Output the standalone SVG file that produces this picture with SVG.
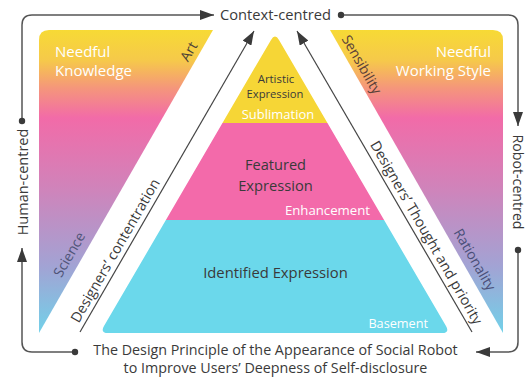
<svg xmlns="http://www.w3.org/2000/svg" width="526" height="378" viewBox="0 0 526 378">
  <defs>
    <linearGradient id="panelGrad" gradientUnits="userSpaceOnUse" x1="0" y1="30" x2="0" y2="333">
      <stop offset="0" stop-color="#f7da35"/>
      <stop offset="0.1" stop-color="#f6c94a"/>
      <stop offset="0.19" stop-color="#f5977a"/>
      <stop offset="0.29" stop-color="#f26ba8"/>
      <stop offset="0.52" stop-color="#d083ba"/>
      <stop offset="0.78" stop-color="#a2a3d4"/>
      <stop offset="1" stop-color="#72d1e9"/>
    </linearGradient>
    <clipPath id="pyramidClip">
      <path d="M271,39.9 Q275,33 279,39.9 L446,326.1 Q450,333 442,333 L108,333 Q100,333 104,326.1 Z"/>
    </clipPath>
    <marker id="arrow" viewBox="0 0 14 10" refX="14" refY="5" markerWidth="14" markerHeight="10" markerUnits="userSpaceOnUse" orient="auto">
      <path d="M0,0 L14,5 L0,10 Z" fill="#3a3a3a"/>
    </marker>
  </defs>
  <style>
    text { font-family: "Open Sans", "DejaVu Sans", sans-serif; }
    .dark { fill: #3a3a3a; }
    .white { fill: #ffffff; }
    .flow { fill: none; stroke: #555555; stroke-width: 1.5; }
    .stripe { fill: none; stroke: #444444; stroke-width: 1.2; }
    .dot { fill: #3a3a3a; }
  </style>

  <rect width="526" height="378" fill="#ffffff"/>

  <!-- left side panel -->
  <g id="panel-left">
    <path d="M49,30 L213,30 L39,333 L39,40 Q39,30 49,30 Z" fill="url(#panelGrad)"/>
    <text class="white" x="55" y="57" font-size="15">Needful</text>
    <text class="white" x="55" y="76" font-size="15">Knowledge</text>
    <text font-size="14" text-anchor="middle" transform="translate(193,54) rotate(-60)" style="fill:#4a3f35">Art</text>
    <text font-size="14" text-anchor="middle" transform="translate(73.5,257) rotate(-60)" style="fill:#4f5478">Science</text>
  </g>

  <!-- right side panel -->
  <g id="panel-right">
    <path d="M330,30 L493,30 Q503,30 503,40 L503,333 Z" fill="url(#panelGrad)"/>
    <text class="white" x="491" y="57" font-size="15" text-anchor="end">Needful</text>
    <text class="white" x="491" y="76" font-size="15" text-anchor="end">Working Style</text>
    <text font-size="14" text-anchor="middle" transform="translate(357.5,67) rotate(60)" style="fill:#5a4038">Sensibility</text>
    <text font-size="14" text-anchor="middle" transform="translate(470.5,262) rotate(60)" style="fill:#4a4f78">Rationality</text>
  </g>

  <!-- central pyramid with three levels -->
  <g id="pyramid" clip-path="url(#pyramidClip)">
    <rect x="90" y="30" width="370" height="93" fill="#f6d636"/>
    <rect x="90" y="123" width="370" height="97" fill="#f36aaa"/>
    <rect x="90" y="220" width="370" height="120" fill="#6bd8eb"/>
  </g>
  <g id="level-top">
    <text class="dark" x="276" y="83" font-size="11.4" text-anchor="middle">Artistic</text>
    <text class="dark" x="275" y="98" font-size="11.2" text-anchor="middle">Expression</text>
    <text class="white" x="278" y="119" font-size="13" text-anchor="middle">Sublimation</text>
  </g>
  <g id="level-middle">
    <text class="dark" x="275.5" y="170" font-size="14.6" text-anchor="middle">Featured</text>
    <text class="dark" x="275.5" y="191" font-size="14.7" text-anchor="middle">Expression</text>
    <text class="white" x="370" y="215" font-size="13.2" text-anchor="end">Enhancement</text>
  </g>
  <g id="level-base">
    <text class="dark" x="275.5" y="278" font-size="14.8" text-anchor="middle">Identified Expression</text>
    <text class="white" x="428" y="328" font-size="12.7" text-anchor="end">Basement</text>
  </g>

  <!-- outer labels -->
  <g id="context-centred">
    <text class="dark" x="275.5" y="20" font-size="14.7" text-anchor="middle">Context-centred</text>
  </g>
  <g id="human-centred">
    <text class="dark" font-size="14.5" text-anchor="middle" transform="translate(28,182) rotate(-90)">Human-centred</text>
  </g>
  <g id="robot-centred">
    <text class="dark" font-size="14.2" text-anchor="middle" transform="translate(512.5,182) rotate(90)">Robot-centred</text>
  </g>
  <g id="principle">
    <text class="dark" x="275.5" y="355" font-size="14.3" text-anchor="middle">The Design Principle of the Appearance of Social Robot</text>
    <text class="dark" x="275.5" y="372.5" font-size="14.3" text-anchor="middle">to Improve Users’ Deepness of Self-disclosure</text>
  </g>

  <!-- connectors -->
  <g id="connectors">
    <path class="flow" d="M75,352 L32,352 Q22,352 22,342 L22,248" marker-end="url(#arrow)"/>
    <circle class="dot" cx="75" cy="352" r="3.2"/>
    <path class="flow" d="M22,121 L22,25 Q22,15 32,15 L214,15" marker-end="url(#arrow)"/>
    <circle class="dot" cx="22" cy="121" r="3.2"/>
    <path class="flow" d="M341,15 L508,15 Q518,15 518,25 L518,126" marker-end="url(#arrow)"/>
    <circle class="dot" cx="341" cy="15" r="3.2"/>
    <path class="flow" d="M518,250 L518,342 Q518,352 508,352 L476,352" marker-end="url(#arrow)"/>
    <circle class="dot" cx="518" cy="250" r="3.2"/>

    <path class="stripe" d="M80,332 L254,31" marker-end="url(#arrow)"/>
    <path class="stripe" d="M472,332 L297,31" marker-end="url(#arrow)"/>
    <text class="dark" font-size="14.3" text-anchor="middle" transform="translate(119.5,253) rotate(-60)">Designers’ contentration</text>
    <text class="dark" font-size="14.3" text-anchor="middle" transform="translate(422,235) rotate(60)">Designers’ Thought and priority</text>
  </g>
</svg>
